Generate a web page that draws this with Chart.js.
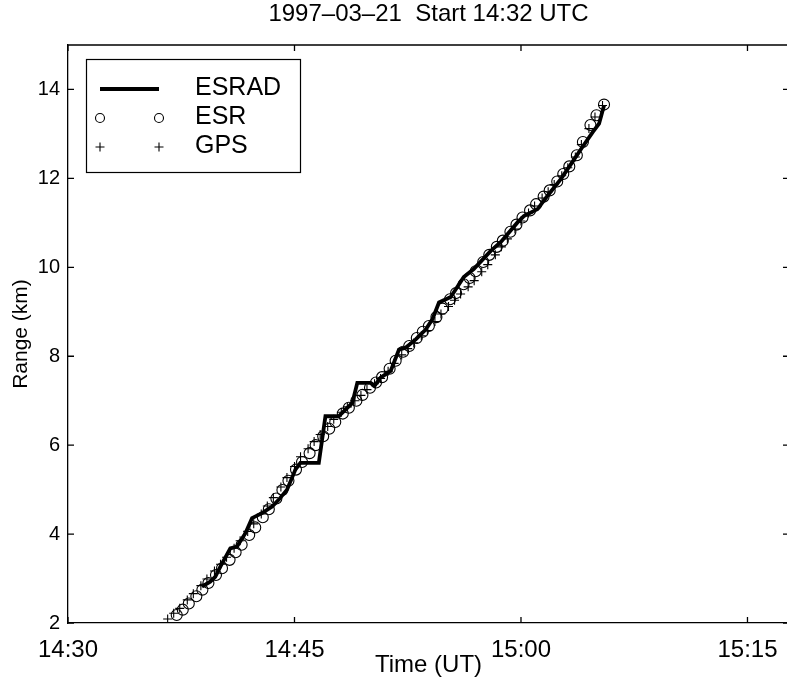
<!DOCTYPE html>
<html>
<head>
<meta charset="utf-8">
<script src="https://cdn.jsdelivr.net/npm/chart.js@4.4.1/dist/chart.umd.min.js"></script>
<style>
html, body { margin: 0; padding: 0; overflow: hidden; background: #fff; }
canvas { display: block; }
</style>
</head>
<body>
<canvas id="c" width="810" height="681"></canvas>
<script>
// Time in minutes after 14:30 UT, range in km
const esradTime  = [8.87, 9.42, 9.75, 10.09, 10.75, 11.19, 11.75, 12.19, 12.85, 13.52, 13.95, 14.51, 15.06, 15.39, 16.61, 17.05, 17.92, 18.38, 18.83, 19.16, 20.04, 20.31, 20.70, 21.37, 21.92, 22.36, 23.03, 23.69, 24.13, 24.57, 25.35, 26.21, 26.87, 28.00, 28.67, 29.77, 30.19, 31.10, 31.76, 32.65, 33.31, 33.98, 34.75, 35.17, 35.50];
const esradRange = [2.82, 2.93, 3.04, 3.27, 3.68, 3.72, 4.02, 4.36, 4.47, 4.62, 4.77, 5.00, 5.45, 5.60, 5.60, 6.65, 6.65, 6.80, 6.95, 7.40, 7.40, 7.34, 7.52, 7.67, 8.15, 8.19, 8.38, 8.60, 8.83, 9.21, 9.33, 9.78, 9.96, 10.37, 10.57, 11.01, 11.15, 11.31, 11.61, 11.99, 12.32, 12.66, 13.04, 13.23, 13.64];

const esrTime  = [7.2, 7.6, 8.0, 8.5, 8.9, 9.3, 9.8, 10.2, 10.7, 11.1, 11.5, 12.0, 12.4, 12.9, 13.3, 13.8, 14.2, 14.6, 15.1, 15.5, 16.0, 16.4, 16.9, 17.3, 17.7, 18.2, 18.6, 19.1, 19.5, 20.0, 20.4, 20.8, 21.3, 21.7, 22.2, 22.6, 23.1, 23.5, 23.9, 24.4, 24.8, 25.3, 25.7, 26.2, 26.6, 27.0, 27.5, 27.9, 28.4, 28.8, 29.3, 29.7, 30.1, 30.6, 31.0, 31.5, 31.9, 32.4, 32.8, 33.2, 33.7, 34.1, 34.6, 35.0, 35.5];
const esrRange = [2.18, 2.30, 2.44, 2.60, 2.75, 2.90, 3.08, 3.23, 3.42, 3.59, 3.76, 3.98, 4.15, 4.38, 4.56, 4.80, 4.99, 5.20, 5.45, 5.62, 5.82, 6.00, 6.20, 6.37, 6.52, 6.71, 6.84, 7.00, 7.13, 7.29, 7.41, 7.53, 7.72, 7.90, 8.10, 8.23, 8.41, 8.55, 8.68, 8.88, 9.07, 9.28, 9.42, 9.62, 9.76, 9.91, 10.12, 10.28, 10.46, 10.60, 10.80, 10.96, 11.12, 11.28, 11.42, 11.59, 11.73, 11.93, 12.10, 12.27, 12.52, 12.82, 13.20, 13.42, 13.66];

const gpsTime  = [6.6, 7.0, 7.4, 7.9, 8.3, 8.8, 9.2, 9.7, 10.1, 10.5, 11.0, 11.4, 11.9, 12.3, 12.8, 13.2, 13.6, 14.1, 14.5, 15.0, 15.4, 15.9, 16.3, 16.7, 17.2, 17.6, 18.1, 18.5, 19.0, 19.4, 19.8, 20.3, 20.7, 21.2, 21.6, 22.1, 22.5, 22.9, 23.4, 23.8, 24.3, 24.7, 25.2, 25.6, 26.0, 26.5, 26.9, 27.4, 27.8, 28.3, 28.7, 29.1, 29.6, 30.0, 30.5, 30.9, 31.4, 31.8, 32.2, 32.7, 33.1, 33.6, 34.0, 34.5, 34.9, 35.4];
const gpsRange = [2.09, 2.22, 2.33, 2.52, 2.66, 2.84, 2.99, 3.17, 3.32, 3.48, 3.68, 3.85, 4.06, 4.23, 4.45, 4.63, 4.82, 5.06, 5.27, 5.52, 5.74, 5.92, 6.08, 6.24, 6.42, 6.58, 6.74, 6.86, 7.00, 7.12, 7.25, 7.38, 7.50, 7.66, 7.84, 8.03, 8.17, 8.30, 8.46, 8.58, 8.78, 8.95, 9.12, 9.26, 9.40, 9.56, 9.70, 9.90, 10.06, 10.28, 10.46, 10.64, 10.86, 11.04, 11.22, 11.38, 11.56, 11.70, 11.86, 12.06, 12.24, 12.48, 12.76, 13.12, 13.38, 13.64];

const timeTicks = [0, 15, 30, 45];
const timeTickLabels = ['14:30', '14:45', '15:00', '15:15'];
const rangeTicks = [2, 4, 6, 8, 10, 12, 14];

const FONT = "'Liberation Sans', Arial, Helvetica, sans-serif";

function pts(xs, ys) { return xs.map((x, i) => ({ x: x, y: ys[i] })); }

const tickPlugin = {
  id: 'inTicks',
  afterDraw(chart) {
    const ctx = chart.ctx, a = chart.chartArea, xs = chart.scales.x, ys = chart.scales.y;
    const L = 6;
    ctx.save();
    ctx.strokeStyle = '#000';
    ctx.lineWidth = 1.3;
    ctx.beginPath();
    ctx.moveTo(a.left, a.top); ctx.lineTo(a.right, a.top);
    ctx.moveTo(a.right, a.top); ctx.lineTo(a.right, a.bottom);
    xs.ticks.forEach(t => {
      const p = xs.getPixelForValue(t.value);
      ctx.moveTo(p, a.bottom); ctx.lineTo(p, a.bottom - L);
      ctx.moveTo(p, a.top); ctx.lineTo(p, a.top + L);
    });
    ys.ticks.forEach(t => {
      const p = ys.getPixelForValue(t.value);
      ctx.moveTo(a.left, p); ctx.lineTo(a.left + L, p);
      ctx.moveTo(a.right, p); ctx.lineTo(a.right - L, p);
    });
    ctx.stroke();
    ctx.restore();
  }
};

const legendPlugin = {
  id: 'boxLegend',
  afterDatasetsDraw(chart) {
    const ctx = chart.ctx;
    const ds = chart.data.datasets;
    ctx.save();
    ctx.fillStyle = '#fff';
    ctx.fillRect(86.5, 59.5, 214, 113);
    ctx.strokeStyle = '#000';
    ctx.lineWidth = 1.2;
    ctx.strokeRect(86.5, 59.5, 214, 113);
    const rows = [89, 118, 147];
    const x1 = 100, x2 = 159;
    ctx.lineWidth = 3.8;
    ctx.beginPath(); ctx.moveTo(x1, rows[0]); ctx.lineTo(x2, rows[0]); ctx.stroke();
    ctx.lineWidth = 1.1;
    [x1, x2].forEach(x => { ctx.beginPath(); ctx.arc(x, rows[1], 4.5, 0, Math.PI * 2); ctx.stroke(); });
    [x1, x2].forEach(x => {
      ctx.beginPath();
      ctx.moveTo(x - 4.5, rows[2]); ctx.lineTo(x + 4.5, rows[2]);
      ctx.moveTo(x, rows[2] - 4.5); ctx.lineTo(x, rows[2] + 4.5);
      ctx.stroke();
    });
    ctx.fillStyle = '#000';
    ctx.font = '25px ' + FONT;
    ctx.textAlign = 'left';
    ctx.textBaseline = 'middle';
    ds.forEach((d, i) => ctx.fillText(d.label, 195, rows[i] - 1));
    ctx.restore();
  }
};

new Chart(document.getElementById('c'), {
  data: {
    datasets: [
      {
        type: 'line', label: 'ESRAD', data: pts(esradTime, esradRange),
        borderColor: '#000', borderWidth: 3.8, pointRadius: 0, tension: 0,
        borderJoinStyle: 'miter', fill: false, order: 1
      },
      {
        type: 'scatter', label: 'ESR', data: pts(esrTime, esrRange),
        pointStyle: 'circle', pointRadius: 5.5, borderColor: '#000',
        backgroundColor: 'rgba(0,0,0,0)', borderWidth: 1.1, order: 2
      },
      {
        type: 'scatter', label: 'GPS', data: pts(gpsTime, gpsRange),
        pointStyle: 'cross', pointRadius: 4.5, borderColor: '#000',
        backgroundColor: '#000', borderWidth: 1.1, order: 3
      }
    ]
  },
  options: {
    responsive: false,
    maintainAspectRatio: false,
    animation: false,
    devicePixelRatio: 1,
    layout: { padding: { left: 0, right: 21, top: 0, bottom: 0 } },
    plugins: {
      legend: { display: false },
      tooltip: { enabled: false },
      title: {
        display: true,
        fullSize: false,
        text: '1997\u201303\u201321  Start 14:32 UTC',
        color: '#000',
        font: { family: FONT, size: 24, weight: 'normal' },
        padding: { top: 0, bottom: 16.2 }
      }
    },
    scales: {
      x: {
        type: 'linear', min: 0, max: 47.75,
        afterBuildTicks(s) { s.ticks = timeTicks.map(v => ({ value: v })); },
        afterFit(s) { s.height = 58; },
        grid: { display: false, drawTicks: false },
        border: { display: true, color: '#000', width: 1.3 },
        ticks: {
          color: '#000', padding: 13, maxRotation: 0,
          font: { family: FONT, size: 24 },
          callback(v) { const i = timeTicks.indexOf(v); return i >= 0 ? timeTickLabels[i] : ''; }
        },
        title: {
          display: true, text: 'Time (UT)', color: '#000',
          font: { family: FONT, size: 24 }, padding: { top: 0, bottom: 1 }
        }
      },
      y: {
        type: 'linear', min: 2, max: 15,
        afterBuildTicks(s) { s.ticks = rangeTicks.map(v => ({ value: v })); },
        afterFit(s) { s.width = 68; },
        grid: { display: false, drawTicks: false },
        border: { display: true, color: '#000', width: 1.3 },
        ticks: {
          color: '#000', padding: 8,
          font: { family: FONT, size: 20 },
          callback(v) { return String(v); }
        },
        title: {
          display: true, text: 'Range (km)', color: '#000',
          font: { family: FONT, size: 21 }, padding: { top: 9, bottom: 0 }
        }
      }
    }
  },
  plugins: [tickPlugin, legendPlugin]
});
</script>
</body>
</html>
